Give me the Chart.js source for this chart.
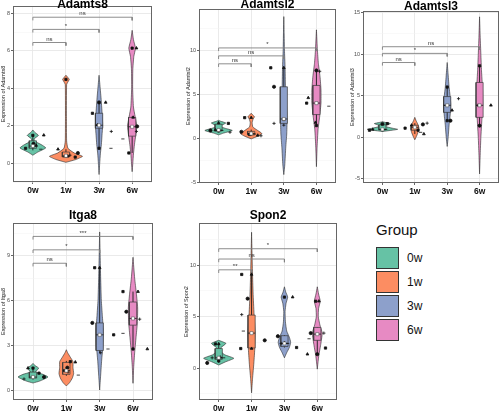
<!DOCTYPE html>
<html>
<head>
<meta charset="utf-8">
<script src="https://cdn.jsdelivr.net/npm/chart.js@4.4.1/dist/chart.umd.min.js"></script>
<style>
  body { margin: 0; width: 500px; height: 414px; background: #fff; position: relative; overflow: hidden;
         font-family: "Liberation Sans", Arial, sans-serif; }
  canvas { position: absolute; }
  .lg-title { position: absolute; left: 376px; top: 222px; font-size: 15px; line-height: 15px; color: #111; }
  .lg-box { position: absolute; left: 376px; width: 23px; height: 22px; box-sizing: border-box; border: 1px solid #333; }
  .lg-text { position: absolute; left: 407px; font-size: 12px; line-height: 22px; color: #111; }
</style>
</head>
<body>
<canvas id="adamts8" width="165" height="200" style="left:0;top:0"></canvas>
<canvas id="adamtsl2" width="157" height="200" style="left:180px;top:0"></canvas>
<canvas id="adamtsl3" width="155" height="200" style="left:345px;top:0"></canvas>
<canvas id="itga8" width="165" height="209" style="left:0;top:205px"></canvas>
<canvas id="spon2" width="158" height="209" style="left:180px;top:205px"></canvas>
<div id="legend"></div>
<script>
const groups = ['0w', '1w', '3w', '6w'];

// violin outline per group: [expression, half width in group units]
// box per group: [lower whisker, q1, median, q3, upper whisker]
// points per group: [jitter, expression]
// signif: [group a, group b, height, label]

const adamts8Ticks = [0, 2, 4, 6, 8];
const adamts8Violin = [
  [[0.43, 0], [0.6, 0.15], [0.82, 0.39], [1.0, 0.25], [1.2, 0.04], [1.32, 0.05], [1.49, 0.17], [1.65, 0.06], [1.78, 0]],
  [[0.05, 0], [0.2, 0.3], [0.37, 0.5], [0.55, 0.25], [0.8, 0.06], [1.2, 0.02], [2.5, 0.015], [4.2, 0.02], [4.35, 0.06], [4.48, 0.1], [4.6, 0.05], [4.7, 0]],
  [[-0.6, 0], [0, 0.02], [0.5, 0.04], [1.0, 0.07], [1.5, 0.09], [2.0, 0.11], [2.5, 0.1], [3.0, 0.08], [3.5, 0.06], [4.0, 0.035], [4.4, 0.015], [4.7, 0]],
  [[-0.45, 0], [0, 0.02], [0.5, 0.04], [1.0, 0.07], [1.5, 0.11], [2.0, 0.14], [2.5, 0.09], [3.0, 0.04], [4.0, 0.015], [5.0, 0.02], [5.7, 0.05], [6.15, 0.1], [6.6, 0.04], [7.1, 0]]
];
const adamts8Box = [[0.69, 0.8, 0.92, 1.2, 1.5], [0.3, 0.34, 0.4, 0.6, 0.75], [0.8, 1.87, 2.03, 2.67, 3.25], [0.55, 1.45, 1.95, 2.45, 2.5]];
const adamts8Points = [
  [[0, 1.49], [0.33, 1.5], [0.02, 1.05], [0, 0.88], [0.24, 0.75], [-0.22, 0.8], [0.1, 0.95]],
  [[0, 4.48], [-0.24, 0.75], [0.36, 0.55], [0.12, 0.43], [-0.05, 0.35], [0.28, 0.33], [0.05, 0.38]],
  [[-0.2, 2.67], [0.2, 3.25], [0, 3.25], [0.37, 1.7], [0.36, 0.8], [0, 0.8], [-0.05, 2.05]],
  [[0, 6.15], [0.13, 6.15], [0.15, 1.97], [0.13, 1.7], [-0.28, 1.3], [-0.1, 0.55], [0.03, 2.45]]
];
const adamts8Signif = [[0, 1, 6.45, 'ns'], [0, 2, 7.15, '*'], [0, 3, 7.8, 'ns']];

const adamtsl2Ticks = [-5, 0, 5, 10];
const adamtsl2Violin = [
  [[0.4, 0], [0.6, 0.15], [0.9, 0.42], [1.15, 0.2], [1.35, 0.05], [1.5, 0.1], [1.75, 0.22], [1.95, 0.06], [2.05, 0]],
  [[-0.05, 0], [0.25, 0.2], [0.55, 0.33], [0.9, 0.2], [1.3, 0.05], [1.8, 0.03], [2.2, 0.06], [2.45, 0.1], [2.65, 0.05], [2.85, 0]],
  [[-4.1, 0], [-3, 0.03], [-1, 0.06], [0.5, 0.09], [2, 0.1], [4, 0.08], [6, 0.05], [8, 0.04], [10, 0.02], [12, 0.01], [13.8, 0]],
  [[-3.2, 0], [-1, 0.02], [1, 0.05], [2.5, 0.1], [4, 0.14], [5.5, 0.14], [7, 0.11], [8.5, 0.06], [10, 0.03], [12.3, 0]]
];
const adamtsl2Box = [[0.7, 0.85, 0.95, 1.6, 1.8], [0.3, 0.4, 0.55, 0.8, 1.0], [1.35, 1.7, 2.2, 5.85, 8.0], [1.35, 2.7, 4.0, 6.0, 7.7]];
const adamtsl2Points = [
  [[0.3, 1.7], [0, 1.75], [-0.25, 0.9], [0.35, 0.7], [0.1, 0.9], [0, 0.85], [-0.1, 0.95]],
  [[-0.2, 2.35], [0, 2.35], [-0.3, 0.75], [0.3, 0.3], [0.1, 0.5], [-0.05, 0.45], [0.2, 0.35]],
  [[-0.4, 8.0], [0, 8.0], [-0.3, 5.85], [-0.3, 1.7], [0, 1.5], [0, 2.15]],
  [[-0.3, 4.0], [-0.25, 4.6], [0, 7.7], [0.1, 7.6], [0.38, 3.65], [0, 1.45], [-0.03, 1.8]]
];
const adamtsl2Signif = [[0, 1, 8.45, 'ns'], [0, 2, 9.35, 'ns'], [0, 3, 10.25, '*']];

const adamtsl3Ticks = [-5, 0, 5, 10, 15];
const adamtsl3Violin = [
  [[0.7, 0], [0.85, 0.3], [0.96, 0.47], [1.1, 0.3], [1.3, 0.1], [1.45, 0.12], [1.65, 0.25], [1.78, 0.1], [1.88, 0]],
  [[-0.3, 0], [0.2, 0.06], [0.6, 0.1], [1.1, 0.13], [1.6, 0.09], [2.0, 0.04], [2.4, 0]],
  [[-1.1, 0], [0, 0.03], [1.5, 0.06], [3, 0.1], [4, 0.11], [5, 0.09], [6, 0.06], [7.5, 0.03], [9, 0]],
  [[-4.4, 0], [-2, 0.02], [0, 0.04], [2, 0.07], [4, 0.1], [6, 0.09], [8, 0.06], [10, 0.04], [12, 0.02], [14.5, 0]]
];
const adamtsl3Box = [[0.85, 0.9, 0.95, 1.5, 1.65], [0.4, 0.85, 1.2, 1.45, 1.7], [2.0, 3.0, 3.85, 4.9, 6.05], [1.4, 2.4, 3.85, 6.6, 8.6]];
const adamtsl3Points = [
  [[-0.4, 0.85], [-0.3, 0.95], [0, 1.6], [0, 0.9], [0.1, 0.95], [0.15, 1.65]],
  [[-0.3, 1.1], [-0.1, 1.45], [0.25, 1.55], [0.38, 1.7], [0.18, 0.6], [0.1, 0.85], [0.28, 0.4]],
  [[0, 6.05], [0.15, 3.25], [0.1, 2.0], [0.35, 4.65], [-0.05, 3.85], [0, 2.0]],
  [[0, 8.6], [0.35, 3.85], [0, 1.4], [-0.05, 3.85]]
];
const adamtsl3Signif = [[0, 1, 9.0, 'ns'], [0, 2, 10.1, '*'], [0, 3, 10.9, 'ns']];

const itga8Ticks = [0, 3, 6, 9];
const itga8Violin = [
  [[0.47, 0], [0.6, 0.2], [0.87, 0.45], [1.05, 0.3], [1.2, 0.08], [1.33, 0.12], [1.47, 0.17], [1.63, 0.07], [1.78, 0]],
  [[0.27, 0], [0.5, 0.1], [0.8, 0.18], [1.1, 0.22], [1.5, 0.2], [1.9, 0.2], [2.2, 0.12], [2.5, 0.04], [2.7, 0]],
  [[0, 0], [1, 0.03], [2, 0.06], [3, 0.1], [4, 0.11], [5, 0.08], [6, 0.05], [7.5, 0.03], [9, 0.015], [10.6, 0]],
  [[0.45, 0], [1.5, 0.02], [2.5, 0.05], [3.5, 0.09], [4.5, 0.13], [5.5, 0.14], [6.5, 0.1], [7.5, 0.05], [8.9, 0]]
];
const itga8Box = [[0.7, 0.8, 0.87, 1.2, 1.47], [0.95, 1.05, 1.3, 1.85, 1.95], [2.45, 2.65, 3.7, 4.5, 8.2], [2.75, 4.35, 4.8, 5.9, 6.6]];
const itga8Points = [
  [[0, 1.47], [-0.15, 1.47], [0.33, 0.87], [-0.27, 0.74], [0, 0.85], [0.18, 1.13]],
  [[0.12, 1.9], [0.27, 1.87], [0.03, 1.5], [0.05, 1.2], [0.36, 1.0], [-0.05, 1.3]],
  [[-0.15, 8.2], [0, 8.2], [-0.22, 4.5], [0.03, 2.5], [0.25, 2.75], [0.42, 3.7]],
  [[-0.3, 6.6], [0.15, 6.6], [-0.2, 5.25], [0.2, 4.75], [-0.3, 3.8], [0, 2.75], [0.43, 2.75]]
];
const itga8Signif = [[0, 1, 8.5, 'ns'], [0, 2, 9.4, '*'], [0, 3, 10.3, '***']];

const spon2Ticks = [0, 5, 10];
const spon2Violin = [
  [[0.3, 0], [0.6, 0.2], [0.95, 0.46], [1.3, 0.18], [1.7, 0.04], [2.0, 0.07], [2.4, 0.22], [2.7, 0]],
  [[-2.4, 0], [-1, 0.03], [0.5, 0.07], [2, 0.1], [3.5, 0.11], [5, 0.08], [7, 0.05], [9, 0.03], [11, 0.015], [13.2, 0]],
  [[1.0, 0], [1.5, 0.07], [2.0, 0.15], [2.5, 0.19], [3.0, 0.15], [3.6, 0.07], [4.5, 0.03], [5.5, 0.02], [6.3, 0.05], [6.9, 0.1], [7.4, 0.04], [7.9, 0]],
  [[-0.1, 0], [0.5, 0.02], [1.3, 0.05], [2.2, 0.1], [3.4, 0.15], [4.2, 0.08], [5.0, 0.03], [5.8, 0.04], [6.5, 0.09], [7.2, 0.04], [7.9, 0]]
];
const spon2Box = [[0.5, 0.85, 1.0, 1.9, 2.35], [1.85, 1.95, 3.4, 5.15, 9.1], [2.0, 2.1, 2.4, 3.15, 3.2], [1.35, 2.7, 3.3, 3.95, 3.95]];
const spon2Points = [
  [[-0.1, 2.35], [0, 2.35], [-0.35, 0.5], [-0.2, 1.0], [0.15, 1.0], [0, 0.7], [0.05, 1.05]],
  [[-0.3, 9.1], [0, 9.1], [-0.12, 6.75], [-0.3, 5.2], [-0.25, 3.6], [-0.33, 1.9], [0, 1.9], [0.4, 2.7]],
  [[0, 6.9], [0.25, 6.9], [-0.2, 3.1], [-0.1, 2.4], [0.1, 2.4], [0.37, 2.0], [0, 2.45]],
  [[-0.05, 6.5], [0.05, 6.5], [-0.2, 3.4], [0.2, 3.4], [-0.25, 2.85], [0.25, 1.95], [-0.3, 1.35], [0, 1.35]]
];
const spon2Signif = [[0, 1, 9.55, '**'], [0, 2, 10.6, 'ns'], [0, 3, 11.6, '*']];

const palette = ['#66C2A5', '#FC8D62', '#8DA0CB', '#E78AC3'];
const shapes = ['rect', 'triangle', 'circle', 'cross', 'line', 'rect', 'triangle', 'circle'];
const family = '"Liberation Sans", Arial, sans-serif';
const boxHalf = 0.11;

const panelDecor = {
  id: 'panelDecor',
  afterDatasetsDraw(chart, args, opts) {
    const { ctx, chartArea: a, scales: { x, y } } = chart;
    ctx.save();
    ctx.strokeStyle = '#666';
    ctx.lineWidth = 1;
    ctx.strokeRect(a.left + 0.5, a.top + 0.5, a.width - 1, a.height - 1);
    ctx.fillStyle = '#333';
    ctx.font = '6px ' + family;
    ctx.textAlign = 'center';
    ctx.textBaseline = 'bottom';
    opts.signif.forEach(([g1, g2, h, label]) => {
      ctx.fillText(label, x.getPixelForValue((g1 + g2) / 2), y.getPixelForValue(h) - 0.5);
    });
    ctx.fillStyle = '#000';
    ctx.font = 'bold 12px ' + family;
    ctx.textBaseline = 'alphabetic';
    ctx.fillText(opts.title, (a.left + a.right) / 2, a.top - opts.titleGap);
    ctx.restore();
  }
};

function yTickList(major, min, max) {
  const step = major[1] - major[0];
  const list = major.map(v => ({ value: v }));
  for (let v = major[0] - step / 2; v < max; v += step) list.push({ value: v, minor: true });
  return list.filter(t => t.value >= min && t.value <= max).sort((a, b) => a.value - b.value);
}

function drawPanel(p) {
  const datasets = [];
  const span = p.yMax - p.yMin;

  p.violin.forEach((prof, i) => {
    const right = prof.map(([v, w]) => ({ x: i + w, y: v }));
    const left = prof.slice().reverse().map(([v, w]) => ({ x: i - w, y: v }));
    datasets.push({
      data: right.concat(left), showLine: true, fill: 'shape', tension: 0.15,
      backgroundColor: palette[i], borderColor: '#2a2a2a', borderWidth: 0.6, pointRadius: 0, order: 6
    });
  });

  p.box.forEach(([lo, q1, med, q3, hi], i) => {
    datasets.push({
      data: [{ x: i, y: lo }, { x: i, y: hi }], showLine: true,
      borderColor: '#1a1a1a', borderWidth: 0.9, pointRadius: 0, order: 5
    });
    datasets.push({
      data: [{ x: i - boxHalf, y: q1 }, { x: i + boxHalf, y: q1 }, { x: i + boxHalf, y: q3 },
             { x: i - boxHalf, y: q3 }, { x: i - boxHalf, y: q1 }],
      showLine: true, fill: 'shape', backgroundColor: palette[i],
      borderColor: '#3a3a3a', borderWidth: 0.7, pointRadius: 0, order: 4
    });
    datasets.push({
      data: [{ x: i - boxHalf, y: med }, { x: i + boxHalf, y: med }], showLine: true,
      borderColor: '#1a1a1a', borderWidth: 0.8, pointRadius: 0, order: 3.5
    });
  });

  const tick = span * 0.018;
  p.signif.forEach(([g1, g2, h]) => {
    datasets.push({
      data: [{ x: g1, y: h - tick }, { x: g1, y: h }, { x: g2, y: h }, { x: g2, y: h - tick }],
      showLine: true, borderColor: '#808080', borderWidth: 0.9, pointRadius: 0, order: 3
    });
  });

  const pts = [];
  const styles = [];
  p.points.forEach((arr, i) => arr.forEach(([dx, v], k) => {
    pts.push({ x: i + dx, y: v });
    styles.push(shapes[k % shapes.length]);
  }));
  datasets.push({
    data: pts, pointStyle: styles, pointRadius: 1.6,
    pointBackgroundColor: '#111', pointBorderColor: '#111', pointBorderWidth: 0.8, order: 2
  });

  datasets.push({
    data: p.box.map((b, i) => ({ x: i, y: b[2] })), pointStyle: 'rect', pointRadius: 2.2,
    pointBackgroundColor: '#fff', pointBorderColor: '#444', pointBorderWidth: 0.5, order: 1
  });

  const L = p.layout;
  new Chart(document.getElementById(p.id), {
    type: 'scatter',
    data: { datasets },
    options: {
      responsive: false, animation: false, devicePixelRatio: 1, events: [],
      layout: { autoPadding: false, padding: L.padding },
      plugins: {
        legend: { display: false }, tooltip: { enabled: false },
        panelDecor: { title: p.gene, signif: p.signif, titleGap: L.titleGap }
      },
      scales: {
        x: {
          type: 'linear', min: -0.6, max: 3.6, bounds: 'data',
          afterBuildTicks: s => { s.ticks = groups.map((g, i) => ({ value: i })); },
          afterFit: s => { s.height = L.xAxisH; },
          ticks: {
            autoSkip: false, maxRotation: 0, callback: v => groups[v],
            font: { size: 8.5, weight: 'bold', family }, color: '#111', padding: 2
          },
          grid: { color: '#E8E8E8', lineWidth: 0.9, tickLength: 2, tickColor: '#555' },
          border: { display: false }
        },
        y: {
          type: 'linear', min: p.yMin, max: p.yMax, bounds: 'data',
          afterBuildTicks: s => { s.ticks = yTickList(p.ticks, p.yMin, p.yMax); },
          afterFit: s => { s.width = L.yAxisW; },
          ticks: {
            autoSkip: false, callback: (v, i, t) => (t[i].minor ? '' : String(v)),
            font: { size: 5.5, family }, color: '#4d4d4d', padding: 1
          },
          grid: {
            color: c => (c.tick && c.tick.minor ? '#F3F3F3' : '#E8E8E8'),
            lineWidth: c => (c.tick && c.tick.minor ? 0.5 : 0.9),
            tickLength: 2,
            tickColor: c => (c.tick && c.tick.minor ? 'rgba(0,0,0,0)' : '#555')
          },
          border: { display: false },
          title: {
            display: true, text: 'Expression of ' + p.gene, color: '#222',
            font: { size: 5.5, family }, padding: { top: L.yTitlePad, bottom: 0 }
          }
        }
      }
    },
    plugins: [panelDecor]
  });
}

const panels = [
  { id: 'adamts8', gene: 'Adamts8', yMin: -1.0, yMax: 8.4, ticks: adamts8Ticks, violin: adamts8Violin,
    box: adamts8Box, points: adamts8Points, signif: adamts8Signif,
    layout: { padding: { left: 0, right: 13, top: 6, bottom: 0 }, yAxisW: 13, xAxisH: 18, titleGap: -1.5, yTitlePad: 0 } },
  { id: 'adamtsl2', gene: 'Adamtsl2', yMin: -5.05, yMax: 14.66, ticks: adamtsl2Ticks, violin: adamtsl2Violin,
    box: adamtsl2Box, points: adamtsl2Points, signif: adamtsl2Signif,
    layout: { padding: { left: 0, right: 1, top: 9, bottom: 0 }, yAxisW: 19, xAxisH: 17, titleGap: 1, yTitlePad: 4.7 } },
  { id: 'adamtsl3', gene: 'Adamtsl3', yMin: -5.5, yMax: 15.2, ticks: adamtsl3Ticks, violin: adamtsl3Violin,
    box: adamtsl3Box, points: adamtsl3Points, signif: adamtsl3Signif,
    layout: { padding: { left: 0, right: 1, top: 11, bottom: 0 }, yAxisW: 18, xAxisH: 17, titleGap: 1.5, yTitlePad: 3.7 } },
  { id: 'itga8', gene: 'Itga8', yMin: -0.67, yMax: 11.2, ticks: itga8Ticks, violin: itga8Violin,
    box: itga8Box, points: itga8Points, signif: itga8Signif,
    layout: { padding: { left: 0, right: 12, top: 18, bottom: 0 }, yAxisW: 13, xAxisH: 14, titleGap: 4, yTitlePad: 0 } },
  { id: 'spon2', gene: 'Spon2', yMin: -3.1, yMax: 14.1, ticks: spon2Ticks, violin: spon2Violin,
    box: spon2Box, points: spon2Points, signif: spon2Signif,
    layout: { padding: { left: 0, right: 1, top: 18, bottom: 0 }, yAxisW: 19, xAxisH: 14, titleGap: 4.5, yTitlePad: 2.7 } }
];

panels.forEach(drawPanel);

// legend
const legend = document.getElementById('legend');
const title = document.createElement('div');
title.className = 'lg-title';
title.textContent = 'Group';
legend.appendChild(title);
groups.forEach((g, i) => {
  const box = document.createElement('div');
  box.className = 'lg-box';
  box.style.top = (247 + i * 24) + 'px';
  box.style.background = palette[i];
  legend.appendChild(box);
  const txt = document.createElement('div');
  txt.className = 'lg-text';
  txt.style.top = (247 + i * 24) + 'px';
  txt.textContent = g;
  legend.appendChild(txt);
});
</script>
</body>
</html>
